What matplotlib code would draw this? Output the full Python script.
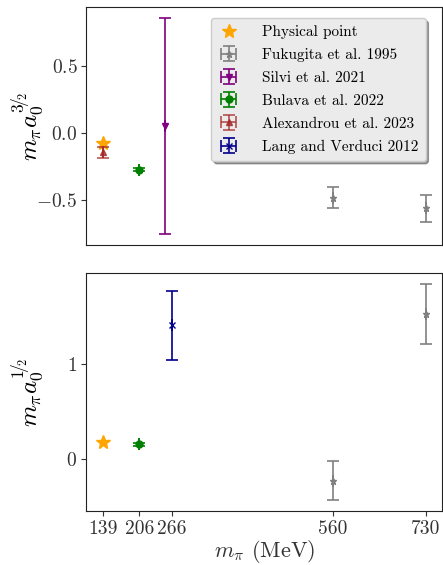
import matplotlib
matplotlib.use("Agg")
import matplotlib.pyplot as plt
import numpy as np

plt.rcParams['font.family'] = 'serif'
plt.rcParams['font.serif'] = ['cmr10']
plt.rcParams['mathtext.fontset'] = 'cm'
plt.rcParams['axes.formatter.use_mathtext'] = True
plt.rcParams['axes.unicode_minus'] = True

# Data
phys_m = [139]
phys_32 = [-0.075]
phys_12 = [0.18]

fuk_m = [560, 730]
fuk_32 = [-0.48, -0.56]
fuk_32_err = [0.08, 0.10]
fuk_12 = [-0.23, 1.52]
fuk_12_err = [0.21, 0.32]

silvi_m = [254]
silvi_32 = [0.055]
silvi_32_err = [0.81]

bul_m = [206]
bul_32 = [-0.27]
bul_32_err = [0.012]
bul_12 = [0.15]
bul_12_err = [0.012]

alex_m = [139]
alex_32 = [-0.14]
alex_32_err = [0.04]

lang_m = [266]
lang_12 = [1.40]
lang_12_err = [0.36]

xticks = [139, 206, 266, 560, 730]

fig, (ax1, ax2) = plt.subplots(2, 1, figsize=(4.43, 5.65), dpi=100, sharex=True)
fig.subplots_adjust(left=0.195, right=0.998, top=0.988, bottom=0.095, hspace=0.115)

kw = dict(capsize=4, linestyle='none', elinewidth=1.2, capthick=1.2)

h_phys, = ax1.plot(phys_m, phys_32, '*', color='orange', ms=10, label='Physical point')
h_fuk = ax1.errorbar(fuk_m, fuk_32, yerr=fuk_32_err, xerr=[0]*2, fmt='*', color='gray', ms=5, label='Fukugita et al. 1995', **kw)
h_sil = ax1.errorbar(silvi_m, silvi_32, yerr=silvi_32_err, xerr=[0], fmt='v', color='purple', ms=5, label='Silvi et al. 2021', **kw)
h_bul = ax1.errorbar(bul_m, bul_32, yerr=bul_32_err, xerr=[0], fmt='o', color='green', ms=5, label='Bulava et al. 2022', **kw)
h_alx = ax1.errorbar(alex_m, alex_32, yerr=alex_32_err, xerr=[0], fmt='^', color='brown', ms=5, alpha=0.8, label='Alexandrou et al. 2023', **kw)

ax2.plot(phys_m, phys_12, '*', color='orange', ms=10)
ax2.errorbar(fuk_m, fuk_12, yerr=fuk_12_err, xerr=[0]*2, fmt='*', color='gray', ms=5, **kw)
ax2.errorbar(bul_m, bul_12, yerr=bul_12_err, xerr=[0], fmt='o', color='green', ms=5, **kw)
h_lang = ax2.errorbar(lang_m, lang_12, yerr=lang_12_err, xerr=[0], fmt='x', color='darkblue', ms=5, label='Lang and Verduci 2012', **kw)

leg = ax1.legend(handles=[h_phys, h_fuk, h_sil, h_bul, h_alx, h_lang], loc='upper right',
                 fontsize=11, fancybox=True, shadow=True, framealpha=1,
                 facecolor='#ebebeb', edgecolor='#cccccc', borderpad=0.45, labelspacing=0.6,
                 handlelength=1.4, handletextpad=1.5, bbox_to_anchor=(0.975, 0.985))

ax1.set_yticks([-0.5, 0.0, 0.5])
ax1.set_yticklabels(['$-0.5$', '$0.0$', '$0.5$'])
ax2.set_yticks([0, 1])
ax2.set_yticklabels(['$0$', '$1$'])
ax2.set_xticks(xticks)
ax2.set_xticklabels([str(v) for v in xticks])
ax1.tick_params(axis='x', bottom=False, labelbottom=False)

for ax in (ax1, ax2):
    ax.tick_params(axis='both', labelsize=14, colors='#333333', labelcolor='#333333', pad=3)
    for s in ax.spines.values():
        s.set_color('#222222')

ax1.set_ylabel(r'$m_\pi a_0^{3\!/\!_{2}}$', fontsize=18)
ax2.set_ylabel(r'$m_\pi a_0^{1\!/\!_{2}}$', fontsize=18)
ax1.yaxis.set_label_coords(-0.115, 0.5)
ax2.yaxis.set_label_coords(-0.115, 0.5)
ax2.set_xlabel(r'$m_\pi$ (MeV)', fontsize=16, color='#333333', labelpad=0)

fig.savefig('out.png', dpi=100)
